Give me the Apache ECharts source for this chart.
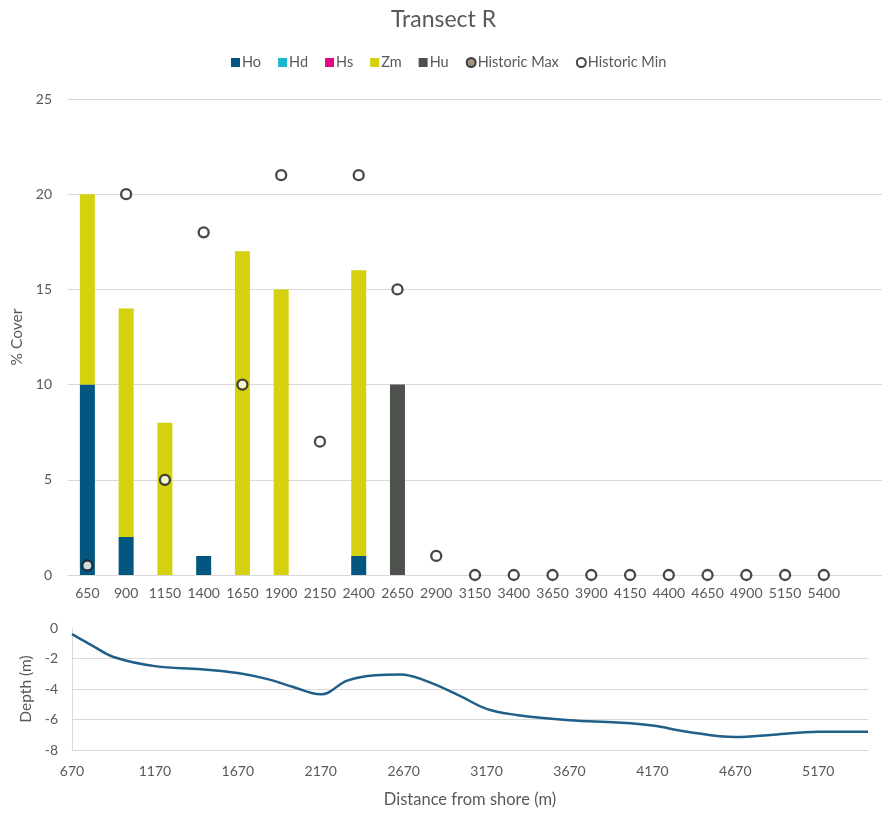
<!DOCTYPE html>
<html>
<head>
<meta charset="utf-8">
<title>Transect R</title>
<script src="https://cdn.jsdelivr.net/npm/echarts@6/dist/echarts.min.js"></script>
<style>
  html, body { margin: 0; padding: 0; background: #ffffff; }
  #chart { width: 882px; height: 814px; }
</style>
</head>
<body>
<div id="chart"></div>
<script>
// Survey stations along the transect (m from shore)
const stations = ['650', '900', '1150', '1400', '1650', '1900', '2150', '2400', '2650', '2900',
                  '3150', '3400', '3650', '3900', '4150', '4400', '4650', '4900', '5150', '5400'];

// Percent cover per species at each station
const ho = [10, 2, 0, 1, 0, 0, 0, 1, 0, 0, 0, 0, 0, 0, 0, 0, 0, 0, 0, 0];
const hd = [0, 0, 0, 0, 0, 0, 0, 0, 0, 0, 0, 0, 0, 0, 0, 0, 0, 0, 0, 0];
const hs = [0, 0, 0, 0, 0, 0, 0, 0, 0, 0, 0, 0, 0, 0, 0, 0, 0, 0, 0, 0];
const zm = [10, 12, 8, 0, 17, 15, 0, 15, 0, 0, 0, 0, 0, 0, 0, 0, 0, 0, 0, 0];
const hu = [0, 0, 0, 0, 0, 0, 0, 0, 10, 0, 0, 0, 0, 0, 0, 0, 0, 0, 0, 0];

// Historic cover markers
const historicMax = [];
const historicMin = [0.5, 20, 5, 18, 10, 21, 7, 21, 15, 1, 0, 0, 0, 0, 0, 0, 0, 0, 0, 0];

// Depth profile along the transect
const depthDistance = [670, 800, 920, 1170, 1450, 1670, 1850, 2000, 2170, 2330, 2500, 2650,
                       2800, 3000, 3170, 3350, 3670, 3960, 4170, 4380, 4670, 4900, 5170, 5470];
const depthValue = [-0.4, -1.2, -1.9, -2.5, -2.7, -2.95, -3.35, -3.85, -4.35, -3.45, -3.1, -3.05,
                    -3.45, -4.4, -5.3, -5.7, -6.05, -6.2, -6.4, -6.8, -7.15, -7.0, -6.8, -6.8];

const coverTicks = { min: 0, max: 25, step: 5 };
const depthTicks = { min: -8, max: 0, step: 2 };
const distanceTicks = { min: 670, max: 5470, step: 500 };

const TEXT = '#595959';
const GRID_LINE = '#d9d9d9';
const FONT = 'Lato, "Open Sans", sans-serif';

const colors = {
  Ho: '#03567f',
  Hd: '#19b8cf',
  Hs: '#e5097f',
  Zm: '#d5d10e',
  Hu: '#4d534c'
};

// one trailing blank band so the plot runs to the right edge
const categoryAxisData = stations.concat(['']);

function barSeries(name, values) {
  return {
    name: name,
    type: 'bar',
    stack: 'cover',
    xAxisIndex: 0,
    yAxisIndex: 0,
    barWidth: 15,
    itemStyle: { color: colors[name] },
    data: values.map(v => (v === 0 ? null : v))
  };
}

const chart = echarts.init(document.getElementById('chart'), null, { renderer: 'canvas' });

chart.setOption({
  backgroundColor: '#ffffff',
  animation: false,
  textStyle: { fontFamily: FONT, color: TEXT },
  title: {
    text: 'Transect R',
    left: 386,
    top: 3,
    textStyle: { fontFamily: FONT, fontSize: 23, fontWeight: 'normal', color: TEXT }
  },
  legend: {
    top: 50,
    left: 226,
    itemWidth: 9,
    itemHeight: 9,
    itemGap: 17,
    textStyle: { fontFamily: FONT, fontSize: 14.5, color: TEXT, padding: [0, 0, 0, -3] },
    data: [
      { name: 'Ho', icon: 'rect' },
      { name: 'Hd', icon: 'rect' },
      { name: 'Hs', icon: 'rect' },
      { name: 'Zm', icon: 'rect' },
      { name: 'Hu', icon: 'rect' },
      { name: 'Historic Max', icon: 'circle' },
      { name: 'Historic Min', icon: 'circle' }
    ]
  },
  grid: [
    { left: 68, top: 99, width: 816, height: 476 },
    { left: 72, top: 628, right: 14, height: 122 }
  ],
  xAxis: [
    {
      type: 'category',
      gridIndex: 0,
      data: categoryAxisData,
      axisLine: { show: true, lineStyle: { color: GRID_LINE, width: 1 } },
      axisTick: { show: false },
      axisLabel: { color: TEXT, fontFamily: FONT, fontSize: 14, margin: 11, interval: 0 }
    },
    {
      type: 'value',
      gridIndex: 1,
      min: distanceTicks.min,
      max: distanceTicks.max,
      interval: distanceTicks.step,
      name: 'Distance from shore (m)',
      nameLocation: 'middle',
      nameGap: 41,
      nameTextStyle: { color: TEXT, fontFamily: FONT, fontSize: 16.5 },
      axisLine: { show: true, onZero: false, lineStyle: { color: GRID_LINE, width: 1 } },
      axisTick: { show: false },
      splitLine: { show: false },
      axisLabel: {
        color: TEXT, fontFamily: FONT, fontSize: 14, margin: 14, showMaxLabel: false,
        formatter: v => String(v)
      }
    }
  ],
  yAxis: [
    {
      type: 'value',
      gridIndex: 0,
      min: coverTicks.min,
      max: coverTicks.max,
      interval: coverTicks.step,
      name: '% Cover',
      nameLocation: 'middle',
      nameGap: 40,
      nameTextStyle: { color: TEXT, fontFamily: FONT, fontSize: 15.5 },
      axisLine: { show: false },
      axisTick: { show: false },
      splitLine: { show: true, lineStyle: { color: GRID_LINE, width: 1 } },
      axisLabel: { color: TEXT, fontFamily: FONT, fontSize: 14, margin: 16 }
    },
    {
      type: 'value',
      gridIndex: 1,
      min: depthTicks.min,
      max: depthTicks.max,
      interval: depthTicks.step,
      name: 'Depth (m)',
      nameLocation: 'middle',
      nameGap: 34,
      nameTextStyle: { color: TEXT, fontFamily: FONT, fontSize: 15.5 },
      axisLine: { show: true, lineStyle: { color: GRID_LINE, width: 1 } },
      axisTick: { show: false },
      splitLine: {
        show: true,
        lineStyle: { color: [GRID_LINE, GRID_LINE, GRID_LINE, GRID_LINE, 'rgba(0,0,0,0)'], width: 1 }
      },
      axisLabel: { color: TEXT, fontFamily: FONT, fontSize: 14, margin: 14 }
    }
  ],
  series: [
    barSeries('Ho', ho),
    barSeries('Hd', hd),
    barSeries('Hs', hs),
    barSeries('Zm', zm),
    barSeries('Hu', hu),
    {
      name: 'Historic Max',
      type: 'scatter',
      xAxisIndex: 0,
      yAxisIndex: 0,
      symbol: 'circle',
      symbolSize: 10,
      itemStyle: { color: '#8b7a62', borderColor: '#1a1a1a', borderWidth: 2.3 },
      data: historicMax
    },
    {
      name: 'Historic Min',
      type: 'scatter',
      xAxisIndex: 0,
      yAxisIndex: 0,
      symbol: 'circle',
      symbolSize: 10,
      z: 5,
      itemStyle: { color: '#ffffff', borderColor: '#1a1a1a', borderWidth: 2.3 },
      data: historicMin
    },
    {
      name: 'Depth',
      type: 'line',
      xAxisIndex: 1,
      yAxisIndex: 1,
      smooth: 0.4,
      showSymbol: false,
      lineStyle: { color: '#1f5f8a', width: 2.5 },
      data: depthDistance.map((d, i) => [d, depthValue[i]])
    }
  ]
});
</script>
</body>
</html>
